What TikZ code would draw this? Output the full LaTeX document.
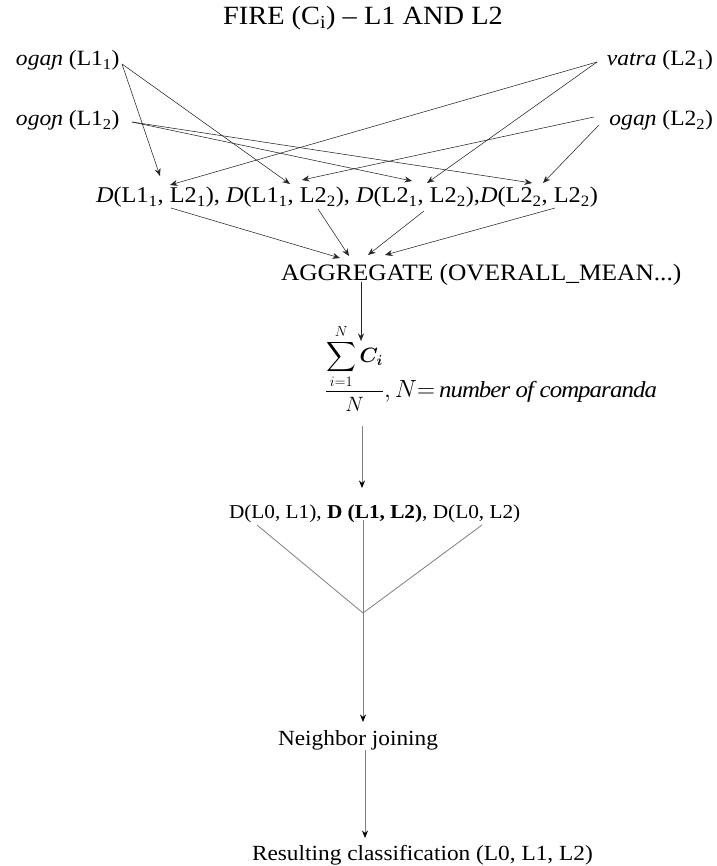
\documentclass[tikz,border=0pt]{standalone}
\usepackage{amsmath}
\usepackage{fontspec}
\setmainfont[FakeStretch=1.08]{Liberation Serif}
\usetikzlibrary{arrows.meta}
\newcommand{\lsub}[1]{\textsubscript{#1}}
\newcommand{\fsz}[1]{\fontsize{#1}{#1}\selectfont}
\begin{document}
\begin{tikzpicture}[x=1pt,y=-1pt,
  lbl/.style={inner sep=0pt, outer sep=0pt},
  conn/.style={draw=black!85, line width=0.55pt, -{Stealth[length=7.5pt,width=6pt]}},
  gconn/.style={draw=black!50, line width=0.8pt, -{Stealth[length=7.5pt,width=6pt,color=black]}},
  gline/.style={draw=black!50, line width=0.8pt},
]
\useasboundingbox[fill=white] (0,0) rectangle (716,866);

% texts
\node[lbl, anchor=base] (title) at (363,25) {\fsz{26.3}FIRE (C\lsub{i}) – L1 AND L2};
\node[lbl, anchor=base west] (l11) at (16,66) {\fsz{21.8}\textit{ogaɲ} (L1\lsub{1})};
\node[lbl, anchor=base west] (l12) at (16,126) {\fsz{21.8}\textit{ogoɲ} (L1\lsub{2})};
\node[lbl, anchor=base east] (l21) at (713,66) {\fsz{21.8}\textit{vatra} (L2\lsub{1})};
\node[lbl, anchor=base east] (l22) at (713,126) {\fsz{21.8}\textit{ogaɲ} (L2\lsub{2})};
\node[lbl, anchor=base west] (drow) at (96,203) {\fsz{22.5}\textit{D}(L1\lsub{1}, L2\lsub{1}), \textit{D}(L1\lsub{1}, L2\lsub{2}), \textit{D}(L2\lsub{1}, L2\lsub{2}),\textit{D}(L2\lsub{2}, L2\lsub{2})};
\node[lbl, anchor=base west] (agg) at (281,280) {\fsz{23.5}AGGREGATE (OVERALL\_MEAN...)};
\node[lbl, anchor=base west] (frac) at (325,397) {\fsz{21}$\dfrac{\displaystyle\sum_{i=1}^{N}\boldsymbol{C_i}}{N}$\fsz{23}$, N{=}\,\mathit{number\ of\ comparanda}$};
\node[lbl, anchor=base west] (dl0) at (229,518) {\fsz{19.7}D(L0, L1), \textbf{D (L1, L2)}, D(L0, L2)};
\node[lbl, anchor=base west] (nj) at (278,745) {\fsz{21.6}Neighbor joining};
\node[lbl, anchor=base west] (res) at (252,860) {\fsz{21.6}Resulting classification (L0, L1, L2)};

% connector end points
\coordinate (s11) at (122,64);
\coordinate (s12) at (132,122);
\coordinate (s21) at (597,62);
\coordinate (s22a) at (594,117);
\coordinate (s22b) at (599,125);
\coordinate (t1) at (160,176);
\coordinate (t2) at (290,184);
\coordinate (t3) at (412,181);
\coordinate (t4) at (532,183);
\coordinate (t5) at (170,185);
\coordinate (t6) at (427,183);
\coordinate (t7) at (302,180);
\coordinate (t8) at (543,183);

\draw[conn] (s11) -- (t1);
\draw[conn] (s11) -- (t2);
\draw[conn] (s12) -- (t3);
\draw[conn] (s12) -- (t4);
\draw[conn] (s21) -- (t5);
\draw[conn] (s21) -- (t6);
\draw[conn] (s22a) -- (t7);
\draw[conn] (s22b) -- (t8);

\coordinate (d1) at (171,208);
\coordinate (d2) at (318,209);
\coordinate (d3) at (424,211);
\coordinate (d4) at (555,208);
\coordinate (a1) at (340,258);
\coordinate (a2) at (349,256);
\coordinate (a3) at (368,255);
\coordinate (a4) at (385,255);
\draw[conn] (d1) -- (a1);
\draw[conn] (d2) -- (a2);
\draw[conn] (d3) -- (a3);
\draw[conn] (d4) -- (a4);

\coordinate (aggb) at (361,282);
\coordinate (fract) at (361,341);
\draw[conn] (aggb) -- (fract);

\coordinate (fracb) at (362,426);
\coordinate (dl0t) at (362,488);
\draw[gconn] (fracb) -- (dl0t);

\coordinate (dl0l) at (257,525);
\coordinate (dl0m) at (363,520);
\coordinate (dl0r) at (482,525);
\coordinate (join) at (363,613);
\draw[gline] (dl0l) -- (join);
\draw[gline] (dl0r) -- (join);
\draw[gline] (dl0m) -- (join);
\coordinate (njt) at (363,722);
\draw[gconn] (join) -- (njt);

\coordinate (njb) at (365,750);
\coordinate (rest) at (365,838);
\draw[gconn] (njb) -- (rest);
\end{tikzpicture}
\end{document}
